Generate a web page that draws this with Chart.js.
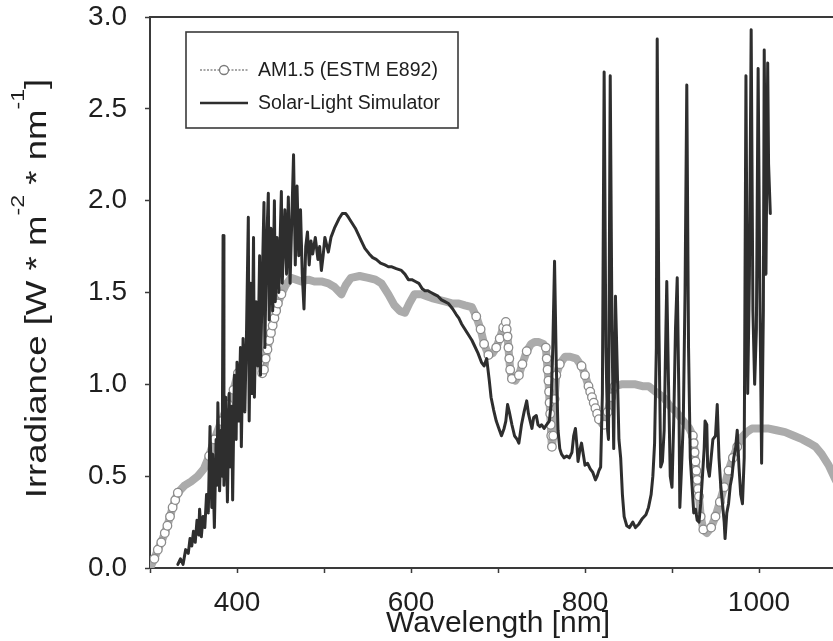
<!DOCTYPE html>
<html>
<head>
<meta charset="utf-8">
<script src="https://cdn.jsdelivr.net/npm/chart.js@4.4.1/dist/chart.umd.min.js"></script>
<style>
  html, body { margin: 0; padding: 0; background: #fff; overflow: hidden; }
  #wrap { position: relative; width: 859px; height: 641px; }
</style>
</head>
<body>
<div id="wrap"><canvas id="spectrum"></canvas></div>
<script>
// Reference solar spectrum AM1.5 (wavelength in nm, irradiance in W m^-2 nm^-1)
const amWavelength = [300,305,309,313,317,320,323,326,329,332,340,347,355,362,368,374,382,390,396,401,408,416,422,426,429,431,433,435,437,439,441,443,445,447,451,456,462,468,474,482,489,497,505,512,520,525,531,541,551,559,566,574,581,587,593,598,604,612,618,624,632,640,648,655,662,670,675,680,684,689,694,698,702,706,709,710,711,712,713,714,716,720,724,728,733,738,742,747,752,755,756,757,758,758.7,759.3,760,760.6,761.2,762,763.5,765,767,771,777,783,790,796,800,804,806,808,810,812,814,816,819,822,826,830,834,842,850,858,866,873,881,890,898,905,913,920,924,925,926,927,928,929,930,931,933,936,940,945,950,955,960,965,970,975,980,986,992,1000,1010,1020,1030,1040,1050,1058,1065,1072,1080,1088,1095,1100];
const amIrradiance = [0.00,0.05,0.10,0.14,0.19,0.23,0.28,0.33,0.37,0.41,0.45,0.47,0.50,0.54,0.61,0.70,0.80,0.89,0.97,1.06,1.12,1.18,1.20,1.12,1.06,1.08,1.14,1.19,1.24,1.28,1.32,1.36,1.40,1.44,1.49,1.54,1.58,1.57,1.56,1.57,1.56,1.56,1.55,1.53,1.49,1.54,1.58,1.59,1.58,1.57,1.55,1.49,1.43,1.40,1.39,1.44,1.49,1.49,1.48,1.47,1.46,1.45,1.44,1.44,1.43,1.42,1.37,1.30,1.22,1.16,1.17,1.20,1.25,1.31,1.34,1.30,1.26,1.20,1.14,1.08,1.03,1.02,1.05,1.11,1.18,1.22,1.23,1.23,1.22,1.20,1.14,1.08,1.02,0.96,0.90,0.84,0.78,0.72,0.66,0.72,0.92,1.05,1.11,1.15,1.15,1.14,1.10,1.05,0.99,0.96,0.93,0.90,0.87,0.84,0.81,0.79,0.78,0.85,0.93,0.99,1.00,1.00,1.00,0.99,0.99,0.96,0.93,0.88,0.85,0.80,0.76,0.72,0.68,0.63,0.58,0.53,0.48,0.43,0.39,0.28,0.21,0.19,0.22,0.28,0.36,0.44,0.53,0.60,0.66,0.71,0.74,0.76,0.76,0.76,0.75,0.74,0.72,0.70,0.68,0.66,0.62,0.56,0.48,0.42,0.38];

// Xenon-arc solar-light simulator output
const simWavelength = [332,335,338,341,344,346,348,350,352,354,356,357,359,361,363,365,367,369,371,372,374,376,377,378,380,382,383,384,385,387,389,391,392,394,395,397,399,400,402,404,405,407,409,411,413,414,416,417,419,420,422,424,426,427,429,431,432,434,436,437,439,441,443,444,446,448,451,452,455,457,459,461,463,465,467,469,471,473,475,477,479,481,483,485,487,490,493,495,497,499,501,505,508,512,517,521,525,528,532,536,539,543,547,552,556,560,565,570,574,578,583,589,593,597,601,605,609,613,616,619,623,627,631,635,639,643,648,652,655,658,662,666,670,673,677,681,684,687,690,692,695,698,701,704,707,709,711,713,716,719,722,724,727,730,733,735,737,739,741,744,746,748,750,753,756,759,761,763,765,767,769,771,773,776,779,782,785,787,789,791,792,794,796,798,800,803,806,809,812,814,816,818,820,822,824,826,827,829,831,833,835,837,839,841,843,845,848,851,855,858,862,866,870,873,876,878,880,882,883,885,887,889,891,893,894,896,898,900,902,904,906,908,909,911,913,915,917,919,921,923,925,927,929,931,933,935,937,938,940,941,943,945,947,950,952,954,956,958,960,961,963,965,967,969,971,973,975,977,979,981,983,985,987,989,991,993,995,997,999,1001,1003,1005,1006,1008,1010,1011,1013];
const simIrradiance = [0.02,0.05,0.02,0.10,0.08,0.16,0.12,0.20,0.14,0.26,0.18,0.32,0.17,0.28,0.22,0.40,0.30,0.77,0.33,0.62,0.22,0.70,0.45,0.90,0.42,0.75,0.50,1.81,0.45,0.93,0.36,0.95,0.55,0.88,0.37,1.05,0.70,1.12,0.80,1.20,0.66,1.25,0.85,1.30,1.91,0.80,1.55,0.95,1.80,0.93,1.45,1.10,1.70,1.05,1.55,1.99,1.20,1.75,2.04,1.35,1.85,1.40,2.00,1.45,1.80,1.50,2.05,1.55,1.95,1.60,2.02,1.55,1.90,2.25,1.65,2.08,1.70,1.95,1.60,1.41,1.75,1.83,1.65,1.78,1.71,1.80,1.68,1.75,1.62,1.70,1.80,1.72,1.80,1.85,1.90,1.93,1.93,1.91,1.88,1.85,1.82,1.78,1.74,1.71,1.69,1.68,1.66,1.65,1.64,1.64,1.63,1.62,1.60,1.57,1.57,1.56,1.55,1.52,1.51,1.51,1.50,1.49,1.48,1.46,1.45,1.44,1.41,1.38,1.36,1.33,1.30,1.27,1.24,1.21,1.17,1.12,1.10,1.14,1.02,0.93,0.86,0.80,0.76,0.72,0.76,0.80,0.89,0.85,0.78,0.72,0.70,0.68,0.78,0.85,0.91,0.84,0.80,0.76,0.82,0.83,0.78,0.77,0.78,0.76,0.78,0.80,0.89,1.20,1.67,1.10,0.75,0.65,0.62,0.60,0.61,0.60,0.63,0.72,0.76,0.65,0.58,0.64,0.68,0.62,0.56,0.57,0.54,0.52,0.48,0.50,0.53,0.55,0.95,2.70,1.20,0.75,0.70,2.68,1.30,0.65,1.48,1.10,0.70,0.60,0.40,0.28,0.23,0.22,0.25,0.22,0.24,0.27,0.29,0.33,0.40,0.50,0.68,1.20,2.88,1.30,0.55,0.58,0.75,1.30,1.56,1.00,0.50,0.44,0.80,1.30,1.58,0.90,0.33,0.55,0.80,1.50,2.63,1.20,0.60,0.45,0.30,0.32,0.26,0.25,0.35,0.50,0.65,0.80,0.78,0.55,0.50,0.60,0.70,0.72,0.89,0.60,0.45,0.35,0.25,0.16,0.30,0.35,0.45,0.50,0.60,0.65,0.75,0.55,0.40,0.35,0.60,2.68,0.95,1.60,2.93,1.40,1.00,1.30,2.72,1.50,0.57,1.40,2.82,1.60,2.75,2.20,1.93];

const xTickValues = [400, 600, 800, 1000];
const yTickStep = 0.5;

const seriesNames = ['AM1.5 (ESTM E892)', 'Solar-Light Simulator'];

const FONT = '"Liberation Sans", Arial, sans-serif';
const AM_COLOR = '#ababab';
const SIM_COLOR = '#2e2e2e';
const AXIS_COLOR = '#3a3a3a';
const TEXT_COLOR = '#1e1e1e';

const toPoints = (xs, ys) => xs.map((x, i) => ({ x, y: ys[i] }));

// Show the open circles only where the reference curve is steep,
// elsewhere the dense markers merge into a solid grey band.
function steepRadius(ctx) {
  const chart = ctx.chart;
  const xs = chart.scales.x, ys = chart.scales.y;
  if (!xs || !ys) return 0;
  const d = ctx.dataset.data, i = ctx.dataIndex;
  const slope = (a, b) => {
    if (!a || !b) return 0;
    const dx = Math.abs(xs.getPixelForValue(b.x) - xs.getPixelForValue(a.x));
    const dy = Math.abs(ys.getPixelForValue(b.y) - ys.getPixelForValue(a.y));
    return dy / Math.max(dx, 0.01);
  };
  const s = Math.max(slope(d[i - 1], d[i]), slope(d[i], d[i + 1]));
  return s > 2.5 ? 4.3 : 0;
}

// Frame line along the top of the plot area
const topFrame = {
  id: 'topFrame',
  afterDraw(chart) {
    const { ctx, chartArea } = chart;
    ctx.save();
    ctx.strokeStyle = AXIS_COLOR;
    ctx.lineWidth = 2;
    ctx.beginPath();
    ctx.moveTo(chartArea.left - 1, chartArea.top);
    ctx.lineTo(chartArea.right, chartArea.top);
    ctx.stroke();
    ctx.restore();
  }
};

// Rotated y-axis title with superscript exponents (slightly elongated lettering)
const yTitle = {
  id: 'yTitle',
  afterDraw(chart) {
    const { ctx, chartArea } = chart;
    const parts = [
      ['Irradiance [W * m', false], ['-2', true], [' * nm', false], ['-1', true], [']', false]
    ];
    const mainFont = '30px ' + FONT, supFont = '19px ' + FONT;
    const stretch = 1.22;
    ctx.save();
    let total = 0;
    for (const [t, sup] of parts) { ctx.font = sup ? supFont : mainFont; total += ctx.measureText(t).width; }
    const cy = (chartArea.top + chartArea.bottom) / 2 - 4;
    ctx.translate(46, cy);
    ctx.rotate(-Math.PI / 2);
    ctx.scale(stretch, 1);
    ctx.fillStyle = TEXT_COLOR;
    ctx.textBaseline = 'alphabetic';
    let x = -total / 2;
    for (const [t, sup] of parts) {
      ctx.font = sup ? supFont : mainFont;
      ctx.fillText(t, x, sup ? -22 : 0);
      x += ctx.measureText(t).width;
    }
    ctx.restore();
  }
};

// Boxed legend inside the plot area
const boxLegend = {
  id: 'boxLegend',
  afterDraw(chart) {
    const { ctx } = chart;
    const box = { x: 186, y: 32, w: 272, h: 96 };
    ctx.save();
    ctx.fillStyle = '#fff';
    ctx.fillRect(box.x, box.y, box.w, box.h);
    ctx.strokeStyle = AXIS_COLOR;
    ctx.lineWidth = 1.6;
    ctx.strokeRect(box.x, box.y, box.w, box.h);
    const rows = [70, 103];
    ctx.font = '19.5px ' + FONT;
    ctx.textBaseline = 'middle';
    chart.data.datasets.forEach((ds, i) => {
      const y = rows[i];
      if (i === 0) {
        ctx.strokeStyle = '#8a8a8a';
        ctx.lineWidth = 1.5;
        ctx.setLineDash([2, 1.5]);
        ctx.beginPath(); ctx.moveTo(200, y); ctx.lineTo(248, y); ctx.stroke();
        ctx.setLineDash([]);
        ctx.beginPath(); ctx.arc(224, y, 4.5, 0, Math.PI * 2);
        ctx.fillStyle = '#fff'; ctx.fill();
        ctx.strokeStyle = '#7a7a7a'; ctx.lineWidth = 1.3; ctx.stroke();
      } else {
        ctx.strokeStyle = ds.borderColor;
        ctx.lineWidth = 2.5;
        ctx.beginPath(); ctx.moveTo(200, y); ctx.lineTo(248, y); ctx.stroke();
      }
      ctx.fillStyle = TEXT_COLOR;
      ctx.fillText(ds.label, 258, y + 1);
    });
    ctx.restore();
  }
};

new Chart(document.getElementById('spectrum'), {
  type: 'line',
  data: {
    datasets: [
      {
        label: seriesNames[0],
        data: toPoints(amWavelength, amIrradiance),
        borderColor: AM_COLOR,
        borderWidth: 8,
        pointRadius: steepRadius,
        pointBackgroundColor: '#ffffff',
        pointBorderColor: '#8c8c8c',
        pointBorderWidth: 1.3,
        order: 2
      },
      {
        label: seriesNames[1],
        data: toPoints(simWavelength, simIrradiance),
        borderColor: SIM_COLOR,
        borderWidth: 3,
        pointRadius: 0,
        order: 1
      }
    ]
  },
  options: {
    responsive: true,
    maintainAspectRatio: false,
    animation: false,
    events: [],
    layout: { padding: { top: 0, right: 1, bottom: 0, left: 0 } },
    elements: { line: { tension: 0, borderJoinStyle: 'round', borderCapStyle: 'round' } },
    plugins: { legend: { display: false }, tooltip: { enabled: false } },
    scales: {
      x: {
        type: 'linear',
        min: 300,
        max: 1100,
        afterFit(scale) { scale.height = 73; },
        afterBuildTicks(scale) {
          const t = [];
          for (let v = 300; v <= 1100; v += 100) t.push({ value: v });
          scale.ticks = t;
        },
        ticks: {
          autoSkip: false,
          maxRotation: 0,
          padding: 13,
          color: TEXT_COLOR,
          font: { family: FONT, size: 28 },
          callback: (v) => (xTickValues.includes(v) ? String(v) : '')
        },
        grid: { drawOnChartArea: false, drawTicks: true, tickLength: 5, tickColor: AXIS_COLOR, tickWidth: 1.5 },
        border: { display: true, color: AXIS_COLOR, width: 2 },
        title: {
          display: true,
          text: 'Wavelength [nm]',
          color: TEXT_COLOR,
          font: { family: FONT, size: 30, lineHeight: 1 },
          padding: { top: 0, bottom: 2 }
        }
      },
      y: {
        type: 'linear',
        min: 0,
        max: 3,
        afterFit(scale) {
          scale.width = 150;
          scale.paddingTop = 17;
        },
        ticks: {
          stepSize: yTickStep,
          padding: 18,
          color: TEXT_COLOR,
          font: { family: FONT, size: 28 },
          callback: (v) => v.toFixed(1)
        },
        grid: { drawOnChartArea: false, drawTicks: true, tickLength: 5, tickColor: AXIS_COLOR, tickWidth: 1.5 },
        border: { display: true, color: AXIS_COLOR, width: 2 }
      }
    }
  },
  plugins: [topFrame, yTitle, boxLegend]
});
</script>
</body>
</html>
